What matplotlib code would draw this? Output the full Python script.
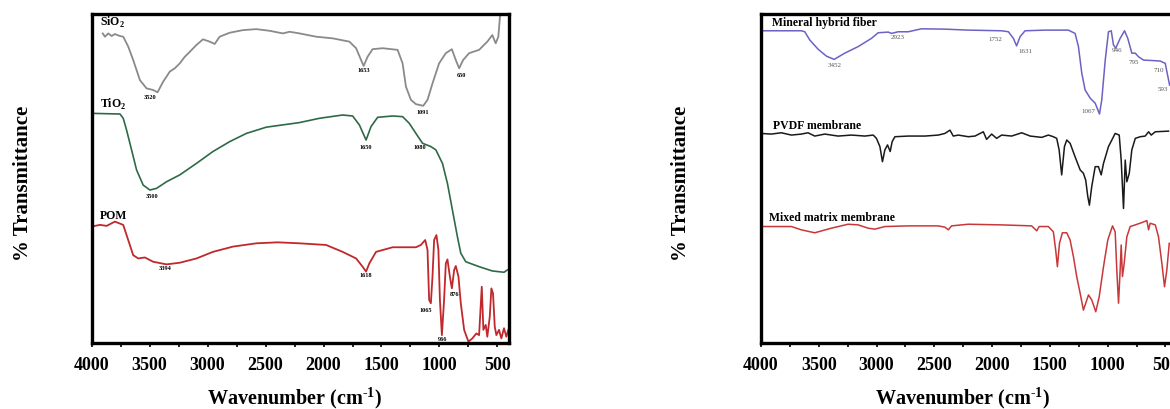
import matplotlib
matplotlib.use("Agg")
import matplotlib.pyplot as plt
from matplotlib.ticker import MultipleLocator

plt.rcParams['font.family'] = ['Liberation Serif', 'DejaVu Serif']
plt.rcParams['mathtext.fontset'] = 'custom'
plt.rcParams['mathtext.rm'] = 'Liberation Serif:bold'
plt.rcParams['mathtext.bf'] = 'Liberation Serif:bold'

# ---- panel (a): SiO2 / TiO2 / POM ----
sio2_wn = [3905, 3886, 3857, 3828, 3800, 3756, 3728, 3685, 3642, 3584, 3527, 3470, 3432, 3384, 3326,
           3283, 3240, 3197, 3154, 3096, 3040, 2982, 2939, 2896, 2810, 2695, 2580, 2466, 2351, 2293,
           2207, 2064, 1921, 1777, 1719, 1676, 1654, 1620, 1577, 1490, 1361, 1318, 1289, 1246, 1203,
           1140, 1103, 1060, 1003, 945, 893, 859, 830, 796, 744, 658, 587, 544, 515, 492, 478, 469]
sio2_t = [94.1, 93.1, 94.1, 93.3, 93.9, 93.3, 93.1, 90.1, 86.0, 79.9, 77.4, 76.9, 76.2, 79.4, 82.5,
          83.5, 85.0, 87.0, 88.5, 90.6, 92.3, 91.6, 90.9, 93.1, 94.3, 95.1, 95.4, 94.9, 94.1, 94.6,
          94.1, 93.1, 92.6, 91.6, 89.6, 86.0, 84.2, 87.0, 89.3, 89.6, 89.1, 85.0, 77.9, 73.9, 72.6,
          72.1, 73.9, 78.9, 85.0, 88.1, 89.3, 86.0, 83.5, 86.0, 88.1, 89.1, 91.6, 93.6, 91.1, 93.1, 99.2, 100]

tio2_wn = [4000, 3756, 3728, 3699, 3656, 3613, 3556, 3498, 3441, 3355, 3240, 3096, 2954, 2810, 2666,
           2494, 2207, 2035, 1835, 1749, 1691, 1633, 1590, 1533, 1404, 1318, 1261, 1203, 1146, 1074,
           1031, 974, 931, 888, 845, 816, 773, 658, 544, 443, 415]
tio2_t = [69.8, 69.6, 68.3, 64.7, 58.7, 52.6, 48.0, 46.5, 47.0, 49.0, 51.1, 54.6, 58.2, 61.2, 63.7,
          65.6, 67.0, 68.3, 69.3, 69.0, 66.3, 61.7, 65.8, 68.6, 69.0, 68.8, 66.8, 63.7, 60.7, 59.7,
          58.7, 54.6, 48.5, 40.4, 32.3, 27.3, 24.7, 23.2, 21.9, 21.5, 22.2]

pom_wn = [4000, 3929, 3871, 3800, 3728, 3685, 3642, 3599, 3541, 3470, 3355, 3240, 3096, 2954, 2781,
          2580, 2394, 2207, 1978, 1835, 1719, 1663, 1633, 1605, 1547, 1404, 1203, 1160, 1123, 1103,
          1089, 1074, 1060, 1046, 1026, 1009, 996, 979, 960, 945, 931, 910, 893, 873, 859,
          836, 816, 787, 750, 716, 682, 658, 635, 621, 601, 587, 566, 552, 538, 523,
          509, 486, 466, 443, 423, 406]
pom_t = [35.4, 35.9, 35.6, 36.9, 35.9, 31.3, 26.7, 25.7, 26.0, 24.7, 23.9, 24.4, 25.7, 27.7, 29.3,
         30.3, 30.6, 30.3, 29.8, 27.7, 25.7, 23.2, 21.7, 24.2, 27.7, 29.1, 29.1, 29.8, 31.3, 28.3,
         13.1, 12.1, 20.2, 31.3, 32.8, 28.3, 13.1, 2.4, 13.1, 24.2, 25.4, 20.2, 16.6, 22.2, 23.4,
         20.2, 12.1, 4.0, 0.4, 1.4, 2.9, 2.4, 17.1, 4.0, 5.5, 1.9, 8.0, 16.6, 15.1, 5.0,
         2.4, 4.0, 1.4, 4.5, 1.9, 4.0]

# ---- panel (b): fiber / PVDF / mixed matrix ----
fiber_wn = [4000, 3651, 3621, 3578, 3506, 3434, 3367, 3275, 3159, 3044, 2986, 2899, 2871, 2813, 2726,
            2611, 2408, 2206, 1918, 1859, 1816, 1788, 1758, 1715, 1541, 1340, 1282, 1253, 1224, 1195,
            1151, 1108, 1071, 1051, 1021, 993, 969, 950, 930, 892, 854, 826, 791, 761, 733,
            690, 588, 545, 502, 479, 464]
fiber_t = [94.9, 94.9, 94.6, 92.1, 89.3, 87.2, 86.2, 88.1, 90.1, 92.6, 94.3, 94.5, 94.1, 94.6, 94.6,
           95.5, 95.4, 95.1, 94.9, 94.6, 92.6, 90.3, 93.1, 94.9, 95.1, 95.1, 94.1, 90.1, 82.0, 76.9,
           74.4, 72.9, 69.6, 73.9, 86.0, 94.6, 94.9, 90.6, 89.6, 92.6, 94.9, 92.6, 88.1, 88.1, 87.0,
           86.0, 85.8, 85.7, 85.0, 81.0, 78.4]

pvdf_wn = [4000, 3911, 3824, 3737, 3651, 3593, 3535, 3448, 3333, 3217, 3101, 3029, 3001, 2971, 2949,
           2928, 2905, 2882, 2865, 2841, 2726, 2581, 2466, 2408, 2365, 2336, 2293, 2206, 2148, 2076,
           2048, 2004, 1961, 1918, 1831, 1744, 1671, 1571, 1513, 1470, 1441, 1420, 1398, 1374, 1354,
           1325, 1282, 1238, 1210, 1190, 1172, 1158, 1138, 1108, 1080, 1056, 1036, 993, 935, 900,
           883, 863, 848, 834, 813, 791, 761, 718, 675, 646, 623, 588, 473]
pvdf_t = [63.7, 63.5, 63.9, 63.2, 63.5, 63.9, 62.9, 63.5, 62.9, 63.2, 62.9, 63.2, 62.2, 59.7, 55.1,
          58.7, 60.2, 58.2, 61.2, 62.7, 62.9, 62.9, 63.2, 63.7, 64.7, 62.9, 63.2, 62.7, 62.9, 64.2,
          61.9, 63.5, 62.2, 63.2, 62.9, 63.9, 62.9, 62.5, 63.2, 62.7, 62.2, 58.7, 51.1, 59.7, 61.7,
          60.7, 56.6, 52.6, 51.6, 49.5, 44.5, 41.9, 47.5, 53.6, 53.6, 51.1, 54.6, 59.7, 63.7, 63.2,
          55.6, 40.9, 55.6, 49.0, 51.6, 58.7, 62.2, 62.7, 62.9, 64.2, 63.2, 64.2, 64.4]

mixed_wn = [4000, 3737, 3651, 3535, 3391, 3246, 3159, 3073, 3015, 2928, 2726, 2466, 2408, 2379, 2351,
            2206, 1918, 1658, 1614, 1593, 1513, 1470, 1450, 1435, 1417, 1392, 1354, 1325, 1296, 1268,
            1238, 1210, 1190, 1166, 1138, 1103, 1073, 1036, 999, 958, 935, 921, 906, 892, 883,
            872, 857, 834, 805, 761, 704, 661, 646, 632, 588, 560, 531, 508, 488, 467]
mixed_t = [35.4, 35.4, 34.4, 33.5, 34.9, 36.1, 35.9, 34.9, 34.6, 35.4, 35.6, 35.6, 35.2, 34.4, 35.6,
           36.1, 35.9, 35.6, 34.1, 35.4, 35.4, 33.8, 28.3, 23.2, 30.3, 33.5, 33.5, 31.3, 26.2, 20.2,
           15.1, 10.0, 12.1, 14.6, 13.1, 9.5, 14.1, 23.2, 31.3, 35.6, 33.8, 22.2, 12.1, 22.2, 29.8,
           20.2, 24.2, 32.3, 35.4, 35.9, 36.6, 37.2, 34.4, 36.4, 35.9, 32.3, 24.2, 17.1, 22.2, 30.3]

# peak labels (text, wavenumber, height)
peaks_a = [("3520", 3498, 74.5), ("1653", 1656, 82.7), ("1091", 1148, 70.2), ("650", 813, 81.2),
           ("3500", 3481, 44.4), ("1650", 1638, 59.3), ("1080", 1166, 59.3),
           ("3394", 3369, 22.5), ("1618", 1638, 20.4), ("1065", 1115, 10.0), ("876", 873, 14.6),
           ("966", 975, 1.2)]
peaks_b = [("3452", 3359, 84.2), ("2923", 2821, 93.0), ("1752", 1972, 92.4), ("1631", 1712, 88.5),
           ("1067", 1166, 70.5), ("946", 915, 88.8), ("795", 776, 85.4), ("710", 560, 82.7),
           ("593", 520, 77.0)]

tick_vals = [4000, 3500, 3000, 2500, 2000, 1500, 1000, 500]

fig = plt.figure(figsize=(11.7, 4.09), dpi=100)
ax1 = fig.add_axes([91.7 / 1170, 66 / 409, (509 - 91.7) / 1170, 329 / 409])
ax2 = fig.add_axes([761 / 1170, 66 / 409, (1177 - 761) / 1170, 329 / 409])

for ax in (ax1, ax2):
    ax.set_xlim(4000, 400)
    ax.set_ylim(0, 100)
    ax.set_yticks([])
    ax.set_xticks(tick_vals)
    ax.set_xticklabels([str(v) for v in tick_vals], fontsize=13, fontweight='bold')
    ax.xaxis.set_minor_locator(MultipleLocator(250))
    ax.tick_params(axis='x', which='both', direction='out', length=3, width=1.2, pad=7)
    for s in ax.spines.values():
        s.set_linewidth(2.4)

ax1.plot(sio2_wn, sio2_t, color='#8a8a8a', lw=1.3)
ax1.plot(tio2_wn, tio2_t, color='#2f6a47', lw=1.2)
ax1.plot(pom_wn, pom_t, color='#c0282c', lw=1.3)

ax1.text(3930, 97.3, r'SiO$_\mathbf{2}$', fontsize=8.5, fontweight='bold', va='center')
ax1.text(3930, 72.4, r'TiO$_\mathbf{2}$', fontsize=8.5, fontweight='bold', va='center')
ax1.text(3930, 38.6, 'POM', fontsize=8.5, fontweight='bold', va='center')
for lab, x, y in peaks_a:
    ax1.text(x, y, lab, fontsize=4.5, fontweight='bold', ha='center', va='center')

ax2.plot(fiber_wn, fiber_t, color='#6b62c4', lw=1.1)
ax2.plot(pvdf_wn, pvdf_t, color='#1a1a1a', lw=1.1)
ax2.plot(mixed_wn, mixed_t, color='#c8383a', lw=1.1)

ax2.text(3905, 97.3, 'Mineral hybrid fiber', fontsize=8.5, fontweight='bold', va='center')
ax2.text(3896, 66.1, 'PVDF membrane', fontsize=8.5, fontweight='bold', va='center')
ax2.text(3931, 38.1, 'Mixed matrix membrane', fontsize=8.5, fontweight='bold', va='center')
for lab, x, y in peaks_b:
    ax2.text(x, y, lab, fontsize=5, color='#555555', ha='center', va='center')

for xc, yc_lab in ((23, 183), (681, 183)):
    fig.text(xc / 1170, 1 - yc_lab / 409, '% Transmittance', rotation=90, fontsize=15,
             fontweight='bold', ha='center', va='center')
for xc in (295, 963):
    fig.text(xc / 1170, 1 - 398 / 409, r'Wavenumber (cm$^{\text{-}1}$)', fontsize=14.5,
             fontweight='bold', ha='center', va='center')

fig.savefig('out.png', dpi=100)
